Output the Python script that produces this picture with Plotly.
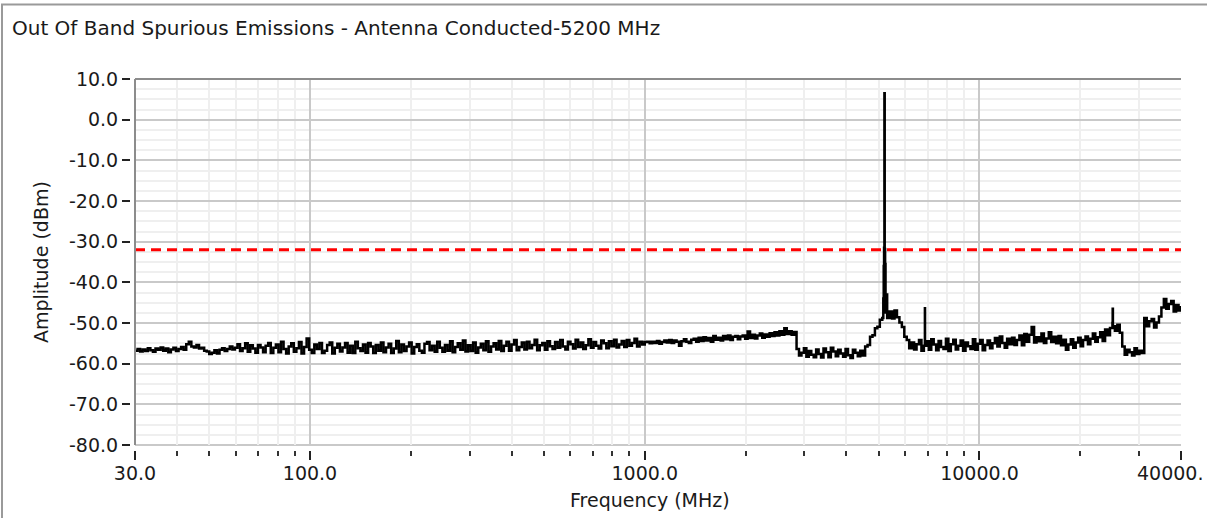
import numpy as np
import plotly.graph_objects as go

# ---- measured trace: 30 MHz - 1 GHz sweep (200 log-spaced points) ----
BAND_A_START_MHZ, BAND_A_STOP_MHZ = 30.0, 1000.0
AMP_A_DBM = [
    -56.8, -56.4, -57.0, -56.5, -56.9, -56.2, -56.7, -57.1, -56.3, -56.6,
    -56.0, -56.8, -56.3, -57.2, -56.5, -56.1, -56.9, -56.4, -55.9, -56.6,
    -55.2, -54.6, -55.8, -56.0, -55.4, -56.3, -56.1, -56.8, -57.0, -57.6,
    -57.3, -56.7, -57.5, -56.6, -56.2, -56.9, -56.4, -55.8, -56.5, -56.1,
    -55.2, -56.9, -56.2, -55.0, -57.1, -55.5, -56.3, -57.3, -55.4, -56.0,
    -57.2, -55.6, -54.9, -57.4, -56.1, -55.3, -57.2, -54.6, -56.4, -57.5,
    -55.8, -55.0, -57.1, -56.2, -54.7, -57.5, -55.9, -53.8, -56.6, -57.4,
    -55.3, -56.4, -54.9, -57.4, -56.8, -55.4, -54.8, -57.5, -56.1, -55.1,
    -57.0, -56.0, -54.9, -57.3, -55.6, -57.4, -54.6, -56.2, -56.9, -55.3,
    -57.3, -54.9, -55.8, -57.4, -55.4, -56.8, -54.8, -57.2, -56.0, -55.1,
    -57.4, -56.3, -54.4, -57.2, -55.3, -56.9, -55.8, -54.8, -57.5, -55.9,
    -55.2, -56.8, -57.3, -55.1, -54.7, -56.7, -55.6, -57.1, -54.6, -56.1,
    -57.1, -55.4, -56.8, -54.5, -57.2, -55.9, -55.0, -56.6, -54.3, -57.0,
    -55.5, -56.9, -54.8, -57.3, -56.0, -55.1, -56.7, -54.5, -57.1, -55.8,
    -55.0, -56.5, -54.4, -56.9, -55.6, -54.6, -56.8, -55.3, -54.2, -56.7,
    -55.9, -54.8, -56.5, -54.6, -56.2, -55.4, -54.1, -56.7, -55.5, -54.9,
    -56.6, -54.5, -55.7, -56.4, -54.7, -56.1, -54.2, -55.8, -56.5, -54.6,
    -55.2, -56.3, -54.1, -55.9, -54.8, -56.4, -55.5, -54.0, -56.1, -54.7,
    -55.6, -56.3, -54.3, -55.0, -56.2, -54.5, -55.7, -54.1, -56.0, -55.3,
    -54.4, -55.9, -54.2, -55.6, -54.9, -53.9, -55.8, -54.6, -55.3, -54.7,
]

# ---- measured trace: 1 GHz - 40 GHz sweep (220 log-spaced points) ----
BAND_B_START_MHZ, BAND_B_STOP_MHZ = 1000.0, 40000.0
AMP_B_DBM = [
    -54.8, -54.6, -55.0, -54.6, -54.9, -54.4, -55.1, -54.7, -54.3, -54.8,
    -54.2, -54.9, -54.3, -54.6, -55.6, -54.5, -54.0, -54.6, -54.9, -54.1,
    -53.9, -54.6, -53.6, -54.4, -53.5, -54.3, -53.7, -54.6, -53.2, -54.1,
    -53.6, -54.3, -53.2, -54.0, -53.1, -54.2, -53.4, -53.2, -54.0, -53.3,
    -53.1, -53.9, -52.1, -53.7, -52.9, -53.8, -53.1, -52.6, -53.6, -52.8,
    -53.4, -52.5, -53.2, -52.3, -53.1, -52.0, -52.9, -51.3, -52.7, -52.0,
    -52.9, -52.2, -56.4, -58.0, -57.3, -56.2, -58.3, -56.9, -57.8, -58.4,
    -56.5, -57.6, -58.5, -56.3, -57.2, -58.4, -56.1, -57.0, -58.2, -56.6,
    -57.5, -58.3, -56.4, -57.9, -58.6, -56.6, -57.3, -58.2, -56.8, -58.0,
    -55.8, -55.4, -53.4, -53.0, -51.3, -50.9, -49.2, -48.8, -47.4, -48.8,
    -47.2, -48.9, -46.9, -48.6, -49.9, -51.0, -53.4, -54.2, -56.2, -54.8,
    -56.5, -55.2, -54.2, -56.8, -55.6, -54.5, -56.6, -54.0, -55.3, -56.7,
    -54.4, -55.9, -56.4, -53.9, -56.9, -55.2, -54.1, -56.5, -55.6, -54.3,
    -56.8, -54.8, -55.7, -56.4, -54.0, -56.6, -55.1, -54.2, -56.7, -55.4,
    -54.3, -56.2, -55.0, -53.7, -55.8, -53.3, -54.9, -56.1, -53.9, -55.2,
    -53.6, -55.4, -54.2, -53.1, -55.5, -52.7, -54.6, -52.9, -51.0, -54.8,
    -53.5, -54.5, -52.6, -54.9, -53.8, -52.3, -54.7, -53.4, -55.0, -53.2,
    -55.5, -54.1, -56.6, -55.3, -54.0, -56.1, -54.8, -53.6, -55.7, -54.2,
    -53.3, -55.2, -53.9, -52.6, -54.6, -53.5, -52.3, -54.4, -51.6, -53.0,
    -51.2, -50.0, -51.9, -50.4, -52.4, -55.8, -57.8, -56.6, -57.2, -58.0,
    -56.2, -57.6, -56.8, -57.4, -48.8, -50.8, -49.6, -49.0, -51.1, -49.9,
    -48.4, -46.2, -44.1, -46.5, -45.3, -44.6, -47.2, -45.6, -46.9, -45.8,
]

# narrow emissions caught between sweep points
CARRIER_FREQ_MHZ = [5160.0, 5175.0, 5188.0, 5200.0, 5212.0, 5225.0, 5240.0]
CARRIER_AMP_DBM = [-44.0, -36.0, -31.5, 6.5, -31.8, -35.5, -43.0]
SPUR_FREQ_MHZ = [6870.0, 6876.0, 25000.0, 25040.0]
SPUR_AMP_DBM = [-46.4, -55.6, -46.5, -50.8]

LIMIT_DBM = -32.0

X_MIN_MHZ, X_MAX_MHZ = 30.0, 40000.0
Y_MIN_DBM, Y_MAX_DBM = -80.0, 10.0
X_TICKS = [30, 100, 1000, 10000, 40000]
X_TICK_TEXT = ["30.0", "100.0", "1000.0", "10000.0", ""]
Y_TICKS = [10, 0, -10, -20, -30, -40, -50, -60, -70, -80]
Y_TICK_TEXT = ["10.0", "0.0", "-10.0", "-20.0", "-30.0", "-40.0",
               "-50.0", "-60.0", "-70.0", "-80.0"]

TITLE = "Out Of Band Spurious Emissions - Antenna Conducted-5200 MHz"
X_TITLE = "Frequency (MHz)"
Y_TITLE = "Amplitude (dBm)"

# ---- assemble the trace ----
freq_a = np.geomspace(BAND_A_START_MHZ, BAND_A_STOP_MHZ, len(AMP_A_DBM))
freq_b = np.geomspace(BAND_B_START_MHZ, BAND_B_STOP_MHZ, len(AMP_B_DBM))[1:]
amp_b = np.array(AMP_B_DBM)[1:]
freq = np.concatenate([freq_a, freq_b, CARRIER_FREQ_MHZ, SPUR_FREQ_MHZ])
amp = np.concatenate([AMP_A_DBM, amp_b, CARRIER_AMP_DBM, SPUR_AMP_DBM])
order = np.argsort(freq, kind="stable")
freq, amp = freq[order], amp[order]

# minor (unlabelled) log ticks
minor_x = [m * d for d in (10, 100, 1000, 10000) for m in range(2, 10)
           if X_MIN_MHZ < m * d < X_MAX_MHZ and m * d not in X_TICKS]
minor_y = [v for v in np.arange(Y_MIN_DBM, Y_MAX_DBM + 0.1, 2.5)
           if v % 10 != 0]

# ---- page geometry (pixels) ----
W, H = 1207, 523
ML, MR, MT, MB = 130, 26, 79, 73
GAP = 5
PW, PH = W - ML - MR, H - MT - MB
dx, dy = GAP / PW, GAP / PH

FONT = "DejaVu Sans"
TXT = "#1a1a1a"
MAJOR_GRID = "#c9c9c9"
MINOR_GRID = "#efefef"
EDGE = "#8c8c8c"

fig = go.Figure()

fig.add_trace(go.Scatter(
    x=[X_MIN_MHZ, X_MAX_MHZ], y=[LIMIT_DBM, LIMIT_DBM], mode="lines",
    line=dict(color="#ff0000", width=3, dash="10px,6px"),
    hoverinfo="skip", showlegend=False))

fig.add_trace(go.Scatter(
    x=freq, y=amp, mode="lines", line=dict(color="#000000", width=2.5, shape="hv"),
    showlegend=False, name="Trace"))

# empty trace that carries the offset tick axes
fig.add_trace(go.Scatter(x=[], y=[], xaxis="x2", yaxis="y2",
                         showlegend=False, hoverinfo="skip"))

lo, hi = np.log10(X_MIN_MHZ), np.log10(X_MAX_MHZ)

fig.update_layout(
    width=W, height=H,
    margin=dict(l=ML, r=MR, t=MT, b=MB, pad=0),
    paper_bgcolor="white", plot_bgcolor="white",
    font=dict(family=FONT, size=19, color=TXT),
    title=dict(text=TITLE, x=12 / W, xanchor="left", xref="container",
               y=1 - 28 / H, yanchor="middle", yref="container",
               font=dict(family=FONT, size=20, color=TXT)),
    xaxis=dict(type="log", range=[lo, hi], domain=[dx, 1],
               tickmode="array", tickvals=[100, 1000, 10000],
               showticklabels=False, ticks="",
               showgrid=True, gridcolor=MAJOR_GRID, gridwidth=2,
               minor=dict(tickmode="array", tickvals=minor_x, showgrid=True,
                          gridcolor=MINOR_GRID, gridwidth=1.5, ticks=""),
               zeroline=False, showline=False, fixedrange=True),
    yaxis=dict(range=[Y_MIN_DBM, Y_MAX_DBM], domain=[dy, 1],
               tickmode="array", tickvals=Y_TICKS,
               showticklabels=False, ticks="",
               showgrid=True, gridcolor=MAJOR_GRID, gridwidth=2,
               minor=dict(tickmode="array", tickvals=minor_y, showgrid=True,
                          gridcolor=MINOR_GRID, gridwidth=1.5, ticks=""),
               zeroline=False, showline=False, fixedrange=True),
    xaxis2=dict(type="log", range=[lo, hi], overlaying="x", anchor="free",
                position=0, tickmode="array", tickvals=X_TICKS,
                ticktext=X_TICK_TEXT, ticks="outside", ticklen=9,
                tickwidth=2, tickcolor="#222222", ticklabelstandoff=-3,
                minor=dict(tickmode="array", tickvals=minor_x, ticks="outside",
                           ticklen=5, tickwidth=2, tickcolor="#333333",
                           showgrid=False),
                showgrid=False, zeroline=False, showline=False,
                tickfont=dict(family=FONT, size=19, color=TXT),
                fixedrange=True),
    yaxis2=dict(range=[Y_MIN_DBM, Y_MAX_DBM], overlaying="y", anchor="free",
                position=0, tickmode="array", tickvals=Y_TICKS,
                ticktext=Y_TICK_TEXT, ticks="outside", ticklen=8,
                tickwidth=2, tickcolor="#222222",
                showgrid=False, zeroline=False, showline=False,
                tickfont=dict(family=FONT, size=19, color=TXT),
                fixedrange=True),
    showlegend=False,
)

# plot frame: dark left and top edges, light bottom edge
fig.add_shape(type="line", xref="x domain", yref="y domain",
              x0=0, x1=0, y0=0, y1=1, line=dict(color=EDGE, width=2))
fig.add_shape(type="line", xref="x domain", yref="y domain",
              x0=0, x1=1, y0=1, y1=1, line=dict(color=EDGE, width=2))
fig.add_shape(type="line", xref="x domain", yref="y domain",
              x0=0, x1=1, y0=0, y1=0, line=dict(color=MAJOR_GRID, width=2),
              layer="below")

# outer panel border (top and left)
fig.add_shape(type="line", xref="paper", yref="paper",
              x0=(1 - ML) / PW, x1=(W + 5 - ML) / PW,
              y0=(H - MB - 4.5) / PH, y1=(H - MB - 4.5) / PH,
              line=dict(color="#9a9a9a", width=2))
fig.add_shape(type="line", xref="paper", yref="paper",
              x0=(2 - ML) / PW, x1=(2 - ML) / PW,
              y0=(H - MB + 5 - H) / PH, y1=(H - MB - 4) / PH,
              line=dict(color="#9a9a9a", width=2))

# axis titles and the clipped end label
fig.add_annotation(text=X_TITLE, xref="paper", yref="paper",
                   x=(650 - ML) / PW, y=(H - MB - 500) / PH,
                   xanchor="center", yanchor="middle", showarrow=False,
                   font=dict(family=FONT, size=19, color=TXT))
fig.add_annotation(text=Y_TITLE, xref="paper", yref="paper",
                   x=(41 - ML) / PW, y=(H - MB - 262) / PH, textangle=-90,
                   xanchor="center", yanchor="middle", showarrow=False,
                   font=dict(family=FONT, size=19, color=TXT))
fig.add_annotation(text="40000.", xref="paper", yref="paper",
                   x=(1170 - ML) / PW, y=(H - MB - 473) / PH,
                   xanchor="center", yanchor="middle", showarrow=False,
                   font=dict(family=FONT, size=19, color=TXT))

fig.write_html("out.html")
